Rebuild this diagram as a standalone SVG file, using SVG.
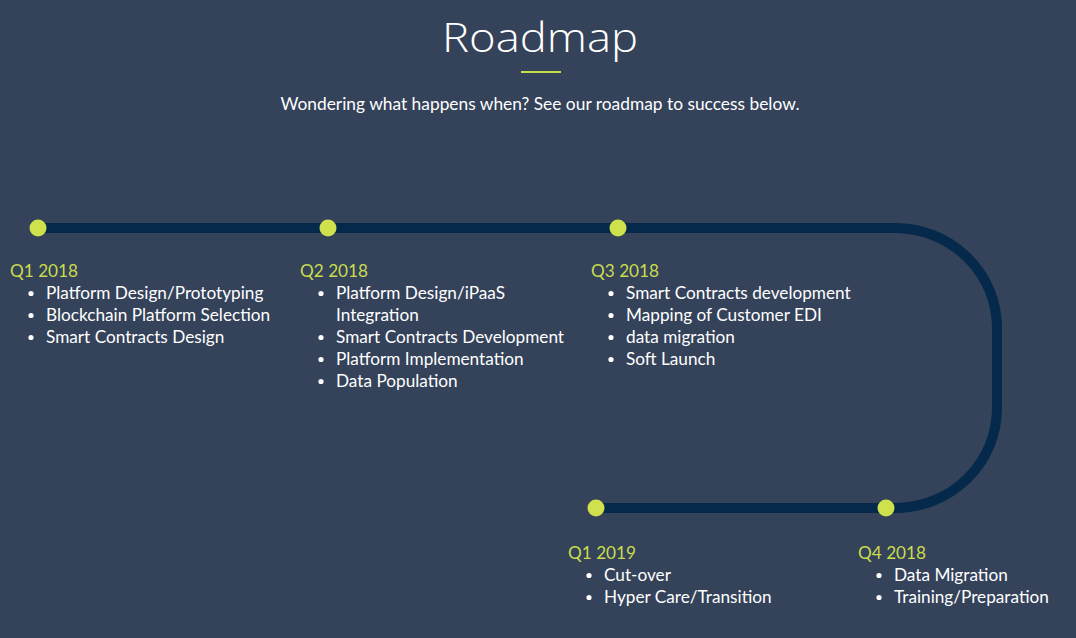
<svg xmlns="http://www.w3.org/2000/svg" width="1076" height="638" viewBox="0 0 1076 638">
  <style>
    .bg { fill: #34425a; }
    .track { fill: none; stroke: #04294a; stroke-width: 10; stroke-linecap: butt; }
    .dot { fill: #cfe14c; }
    .title { font-family: "Open Sans", "Liberation Sans", sans-serif; font-weight: 300; font-size: 40px; fill: #ffffff; }
    .sub { font-family: "Lato", "Open Sans", sans-serif; font-weight: 400; font-size: 17.5px; fill: #ffffff; }
    .q { font-family: "Lato", "Open Sans", sans-serif; font-size: 17.2px; fill: #c9dc4c; }
    .item { font-family: "Lato", "Open Sans", sans-serif; font-size: 17.2px; fill: #ffffff; }
    .bul { fill: #ffffff; }
  </style>
  <rect class="bg" x="0" y="0" width="1076" height="638"/>

  <g id="header">
    <text class="title" x="540" y="52" text-anchor="middle" textLength="196" lengthAdjust="spacingAndGlyphs">Roadmap</text>
    <rect x="521" y="71" width="40" height="2" fill="#c9dc4c"/>
    <text class="sub" x="540" y="110" text-anchor="middle" textLength="519" lengthAdjust="spacingAndGlyphs">Wondering what happens when? See our roadmap to success below.</text>
  </g>

  <g id="connectors">
    <path class="track" d="M38,228 H895 A102,100 0 0 1 997,328 V408 A102,100 0 0 1 895,508 H596"/>
  </g>

  <g id="q1-2018">
    <circle class="dot" cx="38" cy="228" r="8.5"/>
    <text class="q" x="10" y="277">Q1 2018</text>
    <circle class="bul" cx="31" cy="293.5" r="2.6"/>
    <text class="item" x="46" y="299">Platform Design/Prototyping</text>
    <circle class="bul" cx="31" cy="315.5" r="2.6"/>
    <text class="item" x="46" y="321">Blockchain Platform Selection</text>
    <circle class="bul" cx="31" cy="337.5" r="2.6"/>
    <text class="item" x="46" y="343">Smart Contracts Design</text>
  </g>

  <g id="q2-2018">
    <circle class="dot" cx="328" cy="228" r="8.5"/>
    <text class="q" x="300" y="277">Q2 2018</text>
    <circle class="bul" cx="321" cy="293.5" r="2.6"/>
    <text class="item" x="336" y="299">Platform Design/iPaaS</text>
    <text class="item" x="336" y="321">Integration</text>
    <circle class="bul" cx="321" cy="337.5" r="2.6"/>
    <text class="item" x="336" y="343">Smart Contracts Development</text>
    <circle class="bul" cx="321" cy="359.5" r="2.6"/>
    <text class="item" x="336" y="365">Platform Implementation</text>
    <circle class="bul" cx="321" cy="381.5" r="2.6"/>
    <text class="item" x="336" y="387">Data Population</text>
  </g>

  <g id="q3-2018">
    <circle class="dot" cx="618" cy="228" r="8.5"/>
    <text class="q" x="591" y="277">Q3 2018</text>
    <circle class="bul" cx="611" cy="293.5" r="2.6"/>
    <text class="item" x="626" y="299">Smart Contracts development</text>
    <circle class="bul" cx="611" cy="315.5" r="2.6"/>
    <text class="item" x="626" y="321">Mapping of Customer EDI</text>
    <circle class="bul" cx="611" cy="337.5" r="2.6"/>
    <text class="item" x="626" y="343">data migration</text>
    <circle class="bul" cx="611" cy="359.5" r="2.6"/>
    <text class="item" x="626" y="365">Soft Launch</text>
  </g>

  <g id="q4-2018">
    <circle class="dot" cx="886" cy="508" r="8.5"/>
    <text class="q" x="858" y="559">Q4 2018</text>
    <circle class="bul" cx="879" cy="575.5" r="2.6"/>
    <text class="item" x="894" y="581">Data Migration</text>
    <circle class="bul" cx="879" cy="597.5" r="2.6"/>
    <text class="item" x="894" y="603">Training/Preparation</text>
  </g>

  <g id="q1-2019">
    <circle class="dot" cx="596" cy="508" r="8.5"/>
    <text class="q" x="568" y="559">Q1 2019</text>
    <circle class="bul" cx="589" cy="575.5" r="2.6"/>
    <text class="item" x="604" y="581">Cut-over</text>
    <circle class="bul" cx="589" cy="597.5" r="2.6"/>
    <text class="item" x="604" y="603">Hyper Care/Transition</text>
  </g>
</svg>
